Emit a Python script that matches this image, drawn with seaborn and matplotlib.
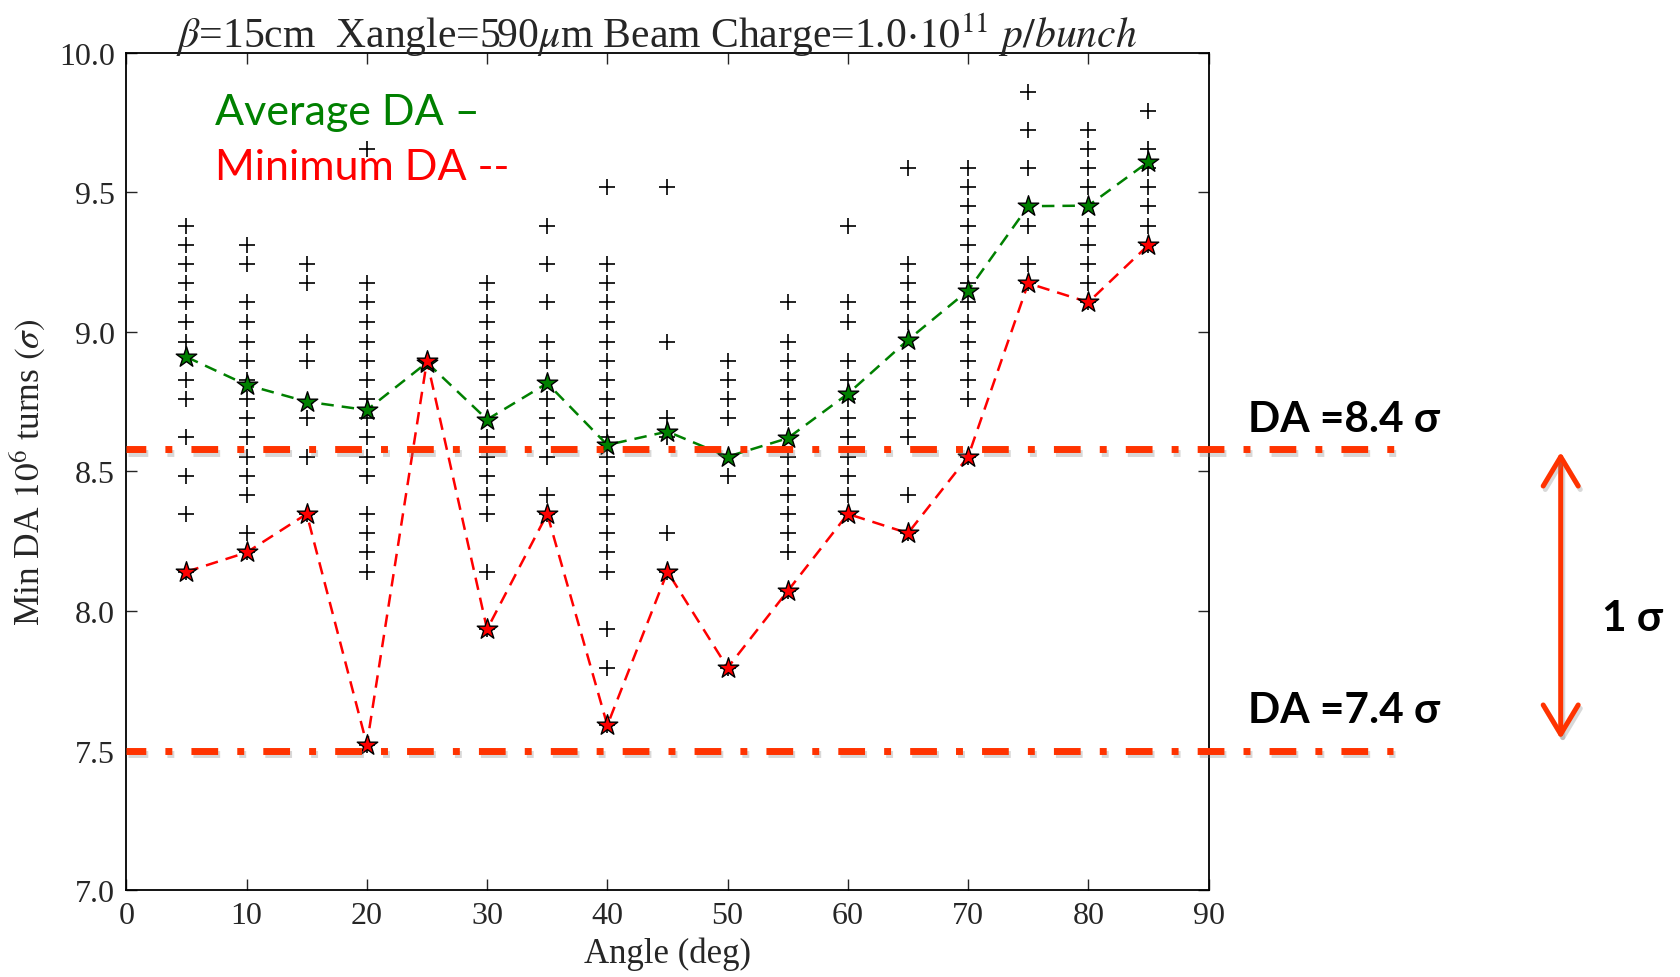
import numpy as np
import pandas as pd
import matplotlib
matplotlib.use("Agg")
import matplotlib.pyplot as plt
import matplotlib.patheffects as pe
from matplotlib.patches import FancyArrowPatch
import seaborn as sns

# ---------------- data ----------------
angles = [5, 10, 15, 20, 25, 30, 35, 40, 45, 50, 55, 60, 65, 70, 75, 80, 85]
avg_da = [8.91, 8.81, 8.75, 8.72, 8.89, 8.686, 8.816, 8.595, 8.643, 8.553, 8.619,
          8.778, 8.971, 9.148, 9.450, 9.452, 9.609]
min_da = [8.141, 8.210, 8.348, 7.522, 8.897, 7.935, 8.348, 7.591, 8.141, 7.797, 8.072,
          8.348, 8.279, 8.553, 9.174, 9.106, 9.311]

samples_05 = [9.380, 9.311, 9.243, 9.174, 9.106, 9.034, 8.965, 8.829, 8.760, 8.623, 8.485, 8.348, 8.141]
samples_10 = [9.311, 9.243, 9.106, 9.034, 8.965, 8.897, 8.829, 8.760, 8.691, 8.623, 8.553, 8.485, 8.416, 8.279, 8.210]
samples_15 = [9.243, 9.174, 8.965, 8.897, 8.691, 8.553, 8.348]
samples_20 = [9.655, 9.174, 9.106, 9.034, 8.965, 8.897, 8.829, 8.760, 8.691, 8.623, 8.553, 8.485,
              8.348, 8.279, 8.210, 8.141, 7.522]
samples_25 = [8.897]
samples_30 = [9.174, 9.106, 9.034, 8.965, 8.897, 8.829, 8.760, 8.623, 8.553, 8.485, 8.416, 8.348, 8.141, 7.935]
samples_35 = [9.380, 9.243, 9.106, 8.965, 8.897, 8.760, 8.691, 8.623, 8.553, 8.416, 8.348]
samples_40 = [9.518, 9.243, 9.174, 9.106, 9.034, 8.965, 8.897, 8.829, 8.760, 8.691, 8.623, 8.553,
              8.485, 8.416, 8.348, 8.279, 8.210, 8.141, 7.935, 7.797, 7.591]
samples_45 = [9.518, 8.965, 8.691, 8.623, 8.279, 8.141]
samples_50 = [8.897, 8.829, 8.760, 8.691, 8.485, 7.797]
samples_55 = [9.106, 8.965, 8.897, 8.829, 8.760, 8.691, 8.553, 8.485, 8.416, 8.348, 8.279, 8.210, 8.072]
samples_60 = [9.380, 9.106, 9.034, 8.897, 8.829, 8.760, 8.691, 8.623, 8.553, 8.485, 8.416, 8.348]
samples_65 = [9.587, 9.243, 9.174, 9.106, 9.034, 8.897, 8.829, 8.760, 8.691, 8.623, 8.416, 8.279]
samples_70 = [9.587, 9.518, 9.450, 9.380, 9.311, 9.243, 9.174, 9.106, 9.034, 8.965, 8.897, 8.829, 8.760, 8.553]
samples_75 = [9.860, 9.723, 9.587, 9.380, 9.243, 9.174]
samples_80 = [9.723, 9.655, 9.587, 9.518, 9.380, 9.311, 9.243, 9.174, 9.106]
samples_85 = [9.792, 9.655, 9.587, 9.518, 9.450, 9.380, 9.311]

da_levels = [8.58, 7.50]
da_labels = ["DA =8.4 σ", "DA =7.4 σ"]

x_ticks = [0, 10, 20, 30, 40, 50, 60, 70, 80, 90]
y_ticks = [7.0, 7.5, 8.0, 8.5, 9.0, 9.5, 10.0]

title = r"$\beta$=15cm  Xangle=590$\mu$m Beam Charge=1.0$\cdot10^{11}$ $p/bunch$"

# ---------------- frames ----------------
all_samples = [samples_05, samples_10, samples_15, samples_20, samples_25, samples_30,
               samples_35, samples_40, samples_45, samples_50, samples_55, samples_60,
               samples_65, samples_70, samples_75, samples_80, samples_85]
df_s = pd.DataFrame({
    "angle": np.concatenate([[a] * len(s) for a, s in zip(angles, all_samples)]),
    "da": np.concatenate(all_samples),
})
df_l = pd.DataFrame({"angle": angles, "avg": avg_da, "min": min_da})

# ---------------- style ----------------
sns.set_style("ticks")
plt.rcParams["font.family"] = ["Liberation Serif", "DejaVu Serif"]
plt.rcParams["mathtext.fontset"] = "stix"

fig = plt.figure(figsize=(16.8, 9.78), dpi=100)
ax = fig.add_axes([0.0752, 0.0886, 0.6442, 0.8566])

sns.scatterplot(data=df_s, x="angle", y="da", marker="+", color="black", s=135,
                linewidth=1.2, ax=ax, zorder=2, legend=False)
sns.lineplot(data=df_l, x="angle", y="avg", color="green", linestyle="--", linewidth=1.8,
             dashes=False, ax=ax, zorder=3, legend=False)
sns.lineplot(data=df_l, x="angle", y="min", color="red", linestyle="--", linewidth=1.8,
             dashes=False, ax=ax, zorder=3, legend=False)
for ln in ax.get_lines():
    ln.set_dashes((5.0, 3.2))
sns.scatterplot(data=df_l, x="angle", y="avg", marker="*", color="green", s=240,
                edgecolor="black", linewidth=1.0, ax=ax, zorder=4, legend=False)
sns.scatterplot(data=df_l, x="angle", y="min", marker="*", color="red", s=240,
                edgecolor="black", linewidth=1.0, ax=ax, zorder=4, legend=False)

ax.set_xlim(0, 90)
ax.set_ylim(7.0, 10.0)
ax.set_xticks(x_ticks)
ax.set_xticklabels([str(t) for t in x_ticks])
ax.set_yticks(y_ticks)
ax.set_yticklabels([f"{t:.1f}" for t in y_ticks])
ax.tick_params(direction="in", length=8, width=1.0, top=True, right=True,
               labelsize=23, pad=8)
for sp in ax.spines.values():
    sp.set_linewidth(1.3)
    sp.set_color("black")

ax.set_xlabel("Angle (deg)", fontsize=25, labelpad=4)
ax.set_ylabel(r"Min DA $10^6$ turns $(\sigma)$", fontsize=25.5, labelpad=8)
ax.set_title(title, fontsize=30, pad=4, x=0.49)

# legend-like texts
leg_font = ["Lato", "Open Sans", "DejaVu Sans"]
fig.text(215 / 1680, 1 - 125 / 978, "Average DA –", color="green", fontsize=31,
         family=leg_font, va="baseline")
fig.text(215 / 1680, 1 - 180 / 978, "Minimum DA --", color="red", fontsize=31,
         family=leg_font, va="baseline")

# thick dash-dot reference lines extending beyond the axes
orange_red = "#ff3300"
ax_w = 1208.6 - 126.4
line_ends = [(1400.7 - 126.4) / ax_w, (1392.7 - 126.4) / ax_w]
for lvl, xend in zip(da_levels, line_ends):
    ax.axhline(lvl, xmin=0.0, xmax=xend, color=orange_red, linewidth=5.0,
               linestyle=(1.0, (3.85, 2.75, 1.0, 2.75)), clip_on=False, zorder=5,
               path_effects=[pe.SimpleLineShadow(offset=(1.5, -2.5), alpha=0.3,
                                                 shadow_color="gray"), pe.Normal()])

ann_font = ["Lato", "Open Sans", "DejaVu Sans"]
fig.text(1248 / 1680, 1 - 431.7 / 978, da_labels[0], fontsize=30.5, fontweight="bold",
         family=ann_font, va="baseline", color="black")
fig.text(1248 / 1680, 1 - 722.7 / 978, da_labels[1], fontsize=30.5, fontweight="bold",
         family=ann_font, va="baseline", color="black")
fig.text(1601.7 / 1680, 1 - 630.7 / 978, "1 σ", fontsize=30.5, fontweight="bold",
         family=ann_font, va="baseline", color="black")

arrow = FancyArrowPatch((1560.7 / 1680, 1 - 453 / 978), (1560.7 / 1680, 1 - 740 / 978),
                        transform=fig.transFigure, arrowstyle="<->,head_length=1.0,head_width=0.6",
                        mutation_scale=21, linewidth=3.6, color=orange_red,
                        shrinkA=0, shrinkB=0, capstyle="round", joinstyle="round",
                        path_effects=[pe.SimpleLineShadow(offset=(1.5, -2.5), alpha=0.3,
                                                          shadow_color="gray"), pe.Normal()])
fig.add_artist(arrow)

fig.savefig("out.png", dpi=100)
